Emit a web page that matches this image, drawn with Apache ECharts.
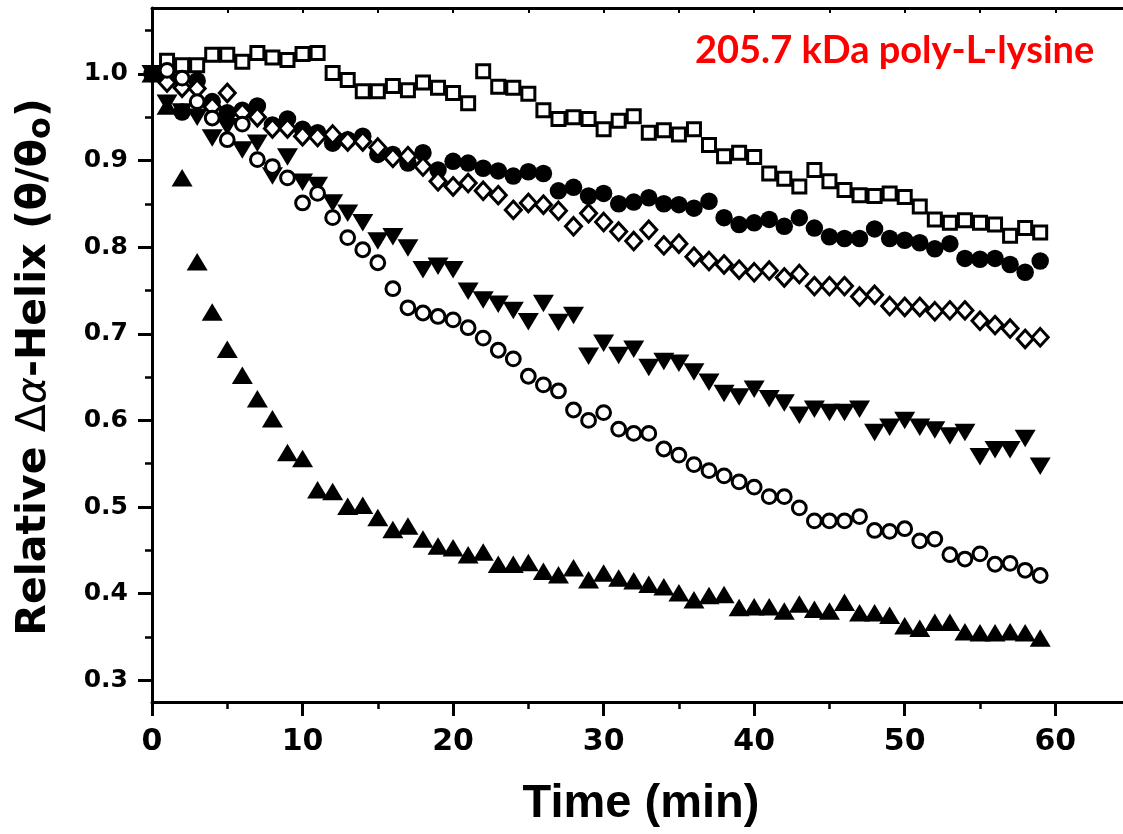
<!DOCTYPE html>
<html>
<head>
<meta charset="utf-8">
<script src="https://cdn.jsdelivr.net/npm/echarts@6/dist/echarts.min.js"></script>
<style>
  html, body { margin: 0; padding: 0; background: #ffffff; }
  #chart { width: 1123px; height: 834px; }
</style>
</head>
<body>
<div id="chart"></div>
<script>
// Sampling times (min)
const timeMin = [0, 1, 2, 3, 4, 5, 6, 7, 8, 9, 10, 11, 12, 13, 14, 15, 16, 17, 18, 19,
  20, 21, 22, 23, 24, 25, 26, 27, 28, 29, 30, 31, 32, 33, 34, 35, 36, 37, 38, 39,
  40, 41, 42, 43, 44, 45, 46, 47, 48, 49, 50, 51, 52, 53, 54, 55, 56, 57, 58, 59];

// Relative α-helix content (θ/θo) for each condition
const openSquare = [null, 1.015, 1.010, 1.010, 1.022, 1.022, 1.014, 1.024, 1.019, 1.016,
  1.023, 1.024, 1.001, 0.993, 0.980, 0.980, 0.986, 0.981, 0.990, 0.984,
  0.978, 0.966, 1.003, 0.985, 0.984, 0.977, 0.958, 0.948, 0.950, 0.948,
  0.936, 0.946, 0.951, 0.932, 0.935, 0.930, 0.936, 0.918, 0.905, 0.909,
  0.904, 0.885, 0.879, 0.870, 0.889, 0.876, 0.866, 0.860, 0.859, 0.862,
  0.858, 0.847, 0.832, 0.828, 0.831, 0.828, 0.826, 0.813, 0.822, 0.817];

const filledCircle = [1.000, 0.997, 0.956, 0.992, 0.968, 0.955, 0.958, 0.963, 0.941, 0.948,
  0.936, 0.932, 0.920, 0.924, 0.928, 0.907, 0.907, 0.897, 0.909, 0.889,
  0.899, 0.897, 0.891, 0.888, 0.882, 0.887, 0.885, 0.865, 0.869, 0.859,
  0.862, 0.850, 0.852, 0.857, 0.850, 0.849, 0.845, 0.853, 0.834, 0.826,
  0.828, 0.832, 0.824, 0.834, 0.822, 0.812, 0.810, 0.810, 0.821, 0.810,
  0.808, 0.805, 0.798, 0.804, 0.787, 0.786, 0.787, 0.780, 0.771, 0.784];

const openDiamond = [null, 0.990, 0.984, 0.983, 0.962, 0.978, 0.955, 0.950, 0.937, 0.937,
  0.928, 0.927, 0.930, 0.922, 0.922, 0.915, 0.903, 0.905, 0.893, 0.876,
  0.870, 0.874, 0.865, 0.860, 0.843, 0.851, 0.849, 0.842, 0.824, 0.839,
  0.829, 0.818, 0.807, 0.820, 0.802, 0.804, 0.789, 0.784, 0.780, 0.774,
  0.771, 0.773, 0.765, 0.769, 0.755, 0.755, 0.755, 0.743, 0.745, 0.732,
  0.731, 0.731, 0.726, 0.727, 0.727, 0.715, 0.710, 0.706, 0.694, 0.696];

const filledDown = [1.000, 0.966, 0.956, 0.950, 0.926, 0.939, 0.912, 0.920, 0.882, 0.904,
  0.875, 0.871, 0.851, 0.839, 0.828, 0.807, 0.812, 0.799, 0.774, 0.778,
  0.774, 0.749, 0.739, 0.734, 0.727, 0.714, 0.735, 0.713, 0.721, 0.674,
  0.689, 0.675, 0.682, 0.661, 0.668, 0.666, 0.656, 0.644, 0.631, 0.627,
  0.636, 0.625, 0.620, 0.606, 0.613, 0.609, 0.609, 0.613, 0.586, 0.592,
  0.600, 0.592, 0.589, 0.582, 0.586, 0.558, 0.566, 0.566, 0.579, 0.547];

const openCircle = [null, 1.004, 0.995, 0.968, 0.949, 0.924, 0.942, 0.901, 0.893, 0.880,
  0.851, 0.862, 0.834, 0.811, 0.797, 0.782, 0.752, 0.730, 0.724, 0.720,
  0.716, 0.707, 0.695, 0.681, 0.671, 0.651, 0.641, 0.634, 0.612, 0.600,
  0.609, 0.590, 0.585, 0.585, 0.567, 0.560, 0.549, 0.542, 0.536, 0.529,
  0.523, 0.512, 0.512, 0.499, 0.484, 0.484, 0.484, 0.489, 0.473, 0.472,
  0.475, 0.461, 0.463, 0.445, 0.440, 0.446, 0.434, 0.435, 0.427, 0.421];

const filledUp = [1.000, 0.963, 0.880, 0.783, 0.725, 0.682, 0.652, 0.625, 0.602, 0.563,
  0.556, 0.520, 0.518, 0.501, 0.502, 0.488, 0.474, 0.478, 0.463, 0.455,
  0.453, 0.445, 0.448, 0.434, 0.434, 0.436, 0.426, 0.422, 0.430, 0.416,
  0.424, 0.418, 0.415, 0.411, 0.408, 0.401, 0.393, 0.398, 0.399, 0.384,
  0.385, 0.385, 0.380, 0.388, 0.382, 0.380, 0.390, 0.378, 0.378, 0.375,
  0.363, 0.360, 0.367, 0.367, 0.356, 0.355, 0.355, 0.356, 0.355, 0.349];

// Axis tick positions
const xMajorTicks = [0, 10, 20, 30, 40, 50, 60];
const xMinorTicks = [5, 15, 25, 35, 45, 55];
const xTopTicks = [0, 5, 10, 15, 20, 25, 30, 35, 40, 45, 50, 55, 60];
const yMajorTicks = [0.3, 0.4, 0.5, 0.6, 0.7, 0.8, 0.9, 1.0];
const yMinorTicks = [0.35, 0.45, 0.55, 0.65, 0.75, 0.85, 0.95, 1.05];

const titleText = '205.7 kDa poly-L-lysine';
const xAxisTitle = 'Time (min)';

const TICK_FONT = '"DejaVu Sans", sans-serif';
const SANS = '"Liberation Sans", Arial, sans-serif';

function pairs(values) {
  const out = [];
  for (let i = 0; i < timeMin.length; i++) {
    if (values[i] !== null) out.push([timeMin[i], values[i]]);
  }
  return out;
}

const openStyle = { color: '#ffffff', borderColor: '#000000', borderWidth: 3, opacity: 1 };
const filledStyle = { color: '#000000', opacity: 1 };

function scatter(name, values, symbol, size, style, rotate) {
  return {
    name: name,
    type: 'scatter',
    data: pairs(values),
    symbol: symbol,
    symbolSize: size,
    symbolRotate: rotate || 0,
    itemStyle: style,
    emphasis: { disabled: true },
    silent: true,
    animation: false
  };
}

const chart = echarts.init(document.getElementById('chart'), null, { renderer: 'canvas' });

const X_MIN = 0, X_MAX = 64.5, Y_MIN = 0.275, Y_MAX = 1.076;

chart.setOption({
  backgroundColor: '#ffffff',
  animation: false,
  grid: { left: 152, right: 0, top: 8, bottom: 132, containLabel: false },
  xAxis: [
    {
      type: 'value', position: 'bottom', min: X_MIN, max: X_MAX,
      axisLine: { show: true, onZero: false, lineStyle: { color: '#000', width: 3 } },
      axisTick: { show: true, inside: false, length: 14, customValues: xMajorTicks,
        lineStyle: { color: '#000', width: 3 } },
      axisLabel: { show: true, customValues: xMajorTicks, margin: 25,
        color: '#000', fontSize: 30, fontWeight: 'bold', fontFamily: TICK_FONT },
      splitLine: { show: false }
    },
    {
      type: 'value', position: 'bottom', min: X_MIN, max: X_MAX,
      axisLine: { show: false, onZero: false },
      axisTick: { show: true, inside: false, length: 7, customValues: xMinorTicks,
        lineStyle: { color: '#000', width: 2.5 } },
      axisLabel: { show: false },
      splitLine: { show: false }
    },
    {
      type: 'value', position: 'top', min: X_MIN, max: X_MAX,
      axisLine: { show: true, onZero: false, lineStyle: { color: '#000', width: 3 } },
      axisTick: { show: true, inside: true, length: 5, customValues: xTopTicks,
        lineStyle: { color: '#000', width: 2 } },
      axisLabel: { show: false },
      splitLine: { show: false }
    }
  ],
  yAxis: [
    {
      type: 'value', position: 'left', min: Y_MIN, max: Y_MAX,
      axisLine: { show: true, onZero: false, lineStyle: { color: '#000', width: 3 } },
      axisTick: { show: true, inside: false, length: 14, customValues: yMajorTicks,
        lineStyle: { color: '#000', width: 3 } },
      axisLabel: { show: true, customValues: yMajorTicks, margin: 24,
        formatter: function (v) { return v.toFixed(1); },
        color: '#000', fontSize: 25, fontWeight: 'bold', fontFamily: TICK_FONT },
      splitLine: { show: false }
    },
    {
      type: 'value', position: 'left', min: Y_MIN, max: Y_MAX,
      axisLine: { show: false, onZero: false },
      axisTick: { show: true, inside: false, length: 7, customValues: yMinorTicks,
        lineStyle: { color: '#000', width: 2.5 } },
      axisLabel: { show: false },
      splitLine: { show: false }
    }
  ],
  series: [
    scatter('filledUp', filledUp, 'triangle', [21, 17.5], filledStyle),
    scatter('filledDown', filledDown, 'triangle', [21, 17.5], filledStyle, 180),
    scatter('filledCircle', filledCircle, 'circle', 17.5, filledStyle),
    scatter('openSquare', openSquare, 'rect', 13, openStyle),
    scatter('openDiamond', openDiamond, 'diamond', [16, 17.5], openStyle),
    scatter('openCircle', openCircle, 'circle', 13.8, openStyle)
  ],
  graphic: [
    {
      type: 'text', x: 695, y: 51, silent: true,
      style: {
        text: titleText, fill: '#ff0000',
        font: 'bold 38px Lato, sans-serif',
        align: 'left', verticalAlign: 'middle'
      }
    },
    {
      type: 'text', x: 641, y: 804, silent: true,
      style: {
        text: xAxisTitle, fill: '#000',
        font: 'bold 47px ' + SANS,
        align: 'center', verticalAlign: 'middle'
      }
    },
    {
      type: 'text', x: 34, y: 367, rotation: Math.PI / 2, silent: true,
      style: {
        text: '{a|Relative }{g|Δ}{ga|α}{a|-Helix (}{t|θ}{a|/}{t|θ}{s|o}{a|)}',
        align: 'center', verticalAlign: 'middle',
        rich: {
          a: { font: 'bold 41px "DejaVu Sans", sans-serif', fill: '#000', lineHeight: 48, verticalAlign: 'middle' },
          g: { font: '41px "DejaVu Sans", sans-serif', fill: '#000', lineHeight: 48, verticalAlign: 'middle' },
          ga: { font: 'italic 41px "DejaVu Sans", sans-serif', fill: '#000', lineHeight: 48, verticalAlign: 'middle' },
          t: { font: 'bold 41px "DejaVu Sans", sans-serif', fill: '#000', lineHeight: 48, verticalAlign: 'middle' },
          s: { font: 'bold 32px "DejaVu Sans", sans-serif', fill: '#000', lineHeight: 28, verticalAlign: 'bottom' }
        }
      }
    }
  ]
});
</script>
</body>
</html>
